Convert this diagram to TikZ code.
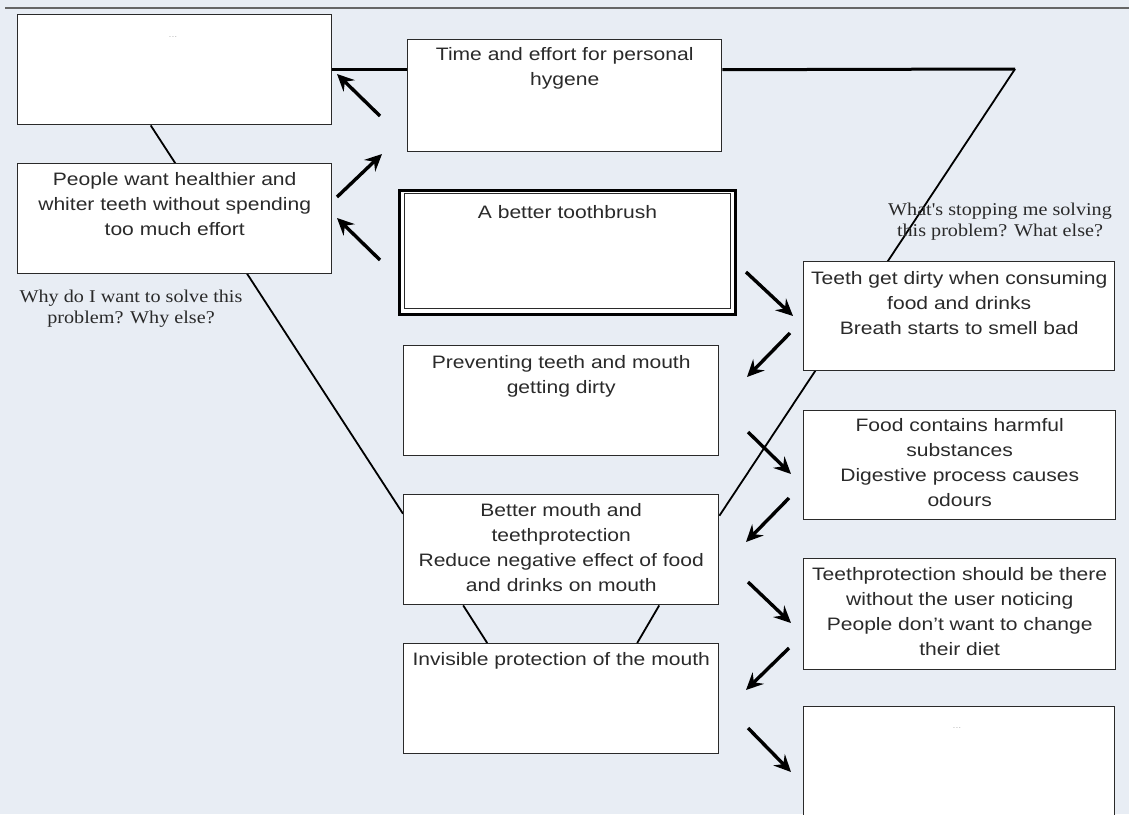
\documentclass[tikz,border=0pt]{standalone}
\usepackage{fontspec}
\setmainfont{Liberation Sans}[FakeStretch=1.17]
\newfontfamily\seriffont{Liberation Serif}[FakeStretch=1.12]
\usetikzlibrary{arrows.meta}
\definecolor{bg}{HTML}{E8EDF4}
\definecolor{ink}{HTML}{2A2A2A}
\definecolor{faint}{HTML}{BDBDBD}
\begin{document}
\begin{tikzpicture}[x=1pt,y=-1pt,
  box/.style={draw=ink, fill=white, line width=1.4pt, inner sep=0pt, anchor=north west, rectangle},
  txt/.style={font=\fontsize{18}{25}\selectfont, align=center, inner sep=0pt, text=ink, anchor=north},
  lbl/.style={font=\seriffont\fontsize{18}{21}\selectfont, align=center, inner sep=0pt, text=ink, anchor=north},
  dots/.style={font=\fontsize{9}{9}\selectfont, text=faint, inner sep=0pt},
  link/.style={draw=black, line width=1.8pt},
  bar/.style={draw=black, line width=3pt},
  arr/.style={draw=black, line width=3.4pt, -{Stealth[length=17pt,width=16pt,inset=6pt]}}
]
\clip (0,0) rectangle (1129,814);
\useasboundingbox (0,0) rectangle (1129,814);
\fill[bg] (0,0) rectangle (1129,814);
\draw[line width=1.2pt, draw=gray!80!black] (5,8) -- (1129,8);

\coordinate (rtop) at (1015,69);

% --- invisible frames used to route connectors behind the boxes
\node[box, draw=none, fill=none, minimum width=314pt, minimum height=110pt] (b1) at (17,14) {};
\node[box, draw=none, fill=none, minimum width=314pt, minimum height=112pt] (b3) at (407,39) {};
\node[box, draw=none, fill=none, minimum width=315pt, minimum height=110pt] (b6) at (403,494) {};
\node[box, draw=none, fill=none, minimum width=315pt, minimum height=110pt] (b7) at (403,643) {};

\draw[link] ([xshift=-24pt]b1.south) -- ([yshift=36pt]b6.west);
\draw[link] ([yshift=34pt]b6.east) -- (rtop);
\draw[link] ([xshift=-98pt]b6.south) -- ([xshift=-74pt]b7.north);
\draw[link] ([xshift=98pt]b6.south) -- ([xshift=76pt]b7.north);
\draw[bar] (b1.east) -- (b1.east -| b3.west);
\draw[bar] (b3.east |- b1.east) -- (rtop);

% --- visible boxes
\node[box, minimum width=314pt, minimum height=110pt] (B1) at (17,14) {};
\node[dots] (B1d) at (173,37) {...};
\node[box, minimum width=314pt, minimum height=110pt] (B2) at (17,163) {};
\node[txt] (B2t) at ([yshift=-9pt]B2.north) {People want healthier and\\whiter teeth without spending\\too much effort};
\node[box, minimum width=314pt, minimum height=112pt] (B3) at (407,39) {};
\node[txt] (B3t) at ([yshift=-8pt]B3.north) {Time and effort for personal\\hygene};
\node[box, draw=black, line width=3pt, minimum width=336pt, minimum height=124pt] (B4) at (398,189) {};
\draw[draw=ink, line width=1pt] ([shift={(6pt,-4pt)}]B4.north west) rectangle ([shift={(-7pt,8pt)}]B4.south east);
\node[txt] (B4t) at ([yshift=-16pt]B4.north) {A better toothbrush};
\node[box, minimum width=315pt, minimum height=110pt] (B5) at (403,345) {};
\node[txt] (B5t) at ([yshift=-10pt]B5.north) {Preventing teeth and mouth\\getting dirty};
\node[box, minimum width=315pt, minimum height=110pt] (B6) at (403,494) {};
\node[txt] (B6t) at ([yshift=-9pt]B6.north) {Better mouth and\\teethprotection\\Reduce negative effect of food\\and drinks on mouth};
\node[box, minimum width=315pt, minimum height=110pt] (B7) at (403,643) {};
\node[txt] (B7t) at ([yshift=-9pt]B7.north) {Invisible protection of the mouth};
\node[box, minimum width=311pt, minimum height=109pt] (B8) at (803,261) {};
\node[txt] (B8t) at ([yshift=-10pt]B8.north) {Teeth get dirty when consuming\\food and drinks\\Breath starts to smell bad};
\node[box, minimum width=312pt, minimum height=109pt] (B9) at (803,410) {};
\node[txt] (B9t) at ([yshift=-8pt]B9.north) {Food contains harmful\\substances\\Digestive process causes\\odours};
\node[box, minimum width=312pt, minimum height=111pt] (B10) at (803,558) {};
\node[txt] (B10t) at ([yshift=-9pt]B10.north) {Teethprotection should be there\\without the user noticing\\People don't want to change\\their diet};
\node[box, minimum width=311pt, minimum height=130pt] (B11) at (803,706) {};
\node[dots] (B11d) at (957,728) {...};

% --- labels
\node[lbl] (L1) at (1000,203) {What's stopping me solving\\this problem? What else?};
\node[lbl] (L2) at (131,290) {Why do I want to solve this\\problem? Why else?};

% --- arrows
\coordinate (a1s) at (380,116); \coordinate (a1e) at (337,74);
\coordinate (a2s) at (337,197); \coordinate (a2e) at (382,154);
\coordinate (a3s) at (380,260); \coordinate (a3e) at (337,218);
\coordinate (a4s) at (746,272); \coordinate (a4e) at (793,316);
\coordinate (a5s) at (790,333); \coordinate (a5e) at (747,377);
\coordinate (a6s) at (748,432); \coordinate (a6e) at (791,474);
\coordinate (a7s) at (789,498); \coordinate (a7e) at (746,542);
\coordinate (a8s) at (748,582); \coordinate (a8e) at (791,623);
\coordinate (a9s) at (789,648); \coordinate (a9e) at (746,690);
\coordinate (a10s) at (748,728); \coordinate (a10e) at (791,772);
\foreach \i in {1,...,10} {\draw[arr] (a\i s) -- (a\i e);}
\end{tikzpicture}
\end{document}
